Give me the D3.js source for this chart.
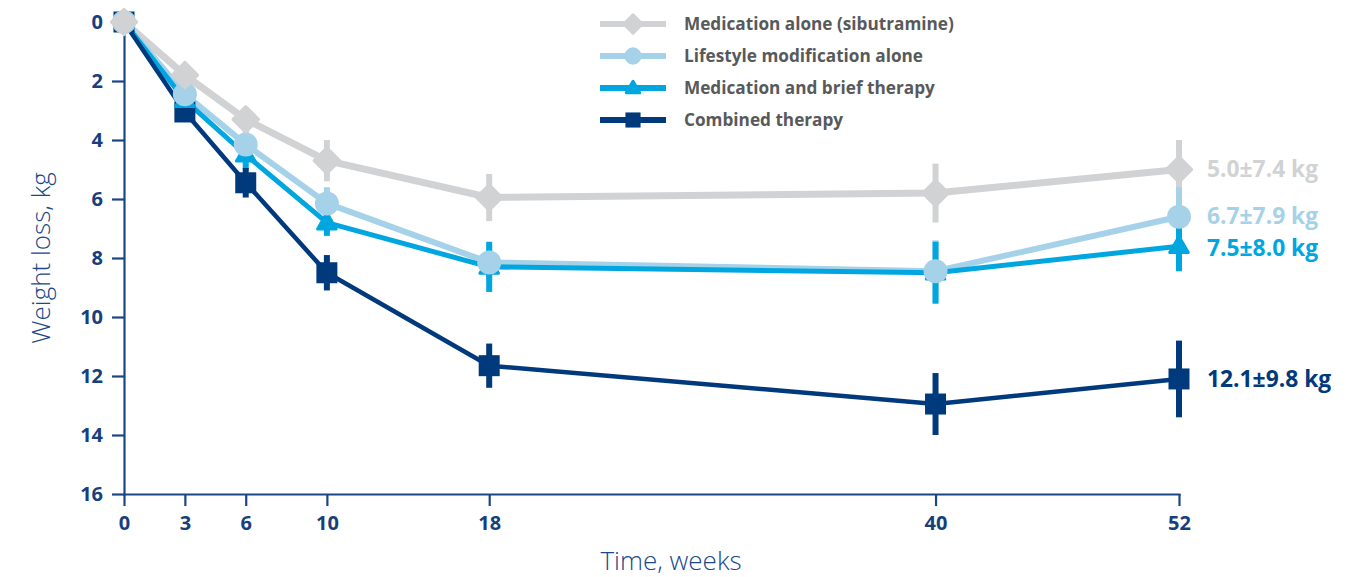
<!DOCTYPE html>
<html lang="en">
<head>
    <meta charset="UTF-8">
    <title>Weight loss over time</title>
    <script src="https://d3js.org/d3.v7.min.js"></script>
    <style>
        body { margin: 0; background: #fff; }
        svg text { font-family: "Open Sans", "Noto Sans", sans-serif; }
        .axis path, .axis line { stroke: #1b4686; stroke-width: 2.2; }
        .axis text { fill: #173f7c; font-weight: 700; font-size: 20px; }
    </style>
</head>
<body>
    <svg id="chart" width="1371" height="577"></svg>

    <script>
        // weeks on the x axis
        const weeks = [0, 3, 6, 10, 18, 40, 52];
        const yTicks = [0, 2, 4, 6, 8, 10, 12, 14, 16];

        // mean weight loss (kg) per group
        const medAlone  = [0, 1.8, 3.3, 4.7, 5.95, 5.8, 5.0];
        const lifestyle = [0, 2.45, 4.15, 6.15, 8.15, 8.45, 6.6];
        const medBrief  = [0, 2.65, 4.5, 6.8, 8.3, 8.5, 7.6];
        const combined  = [0, 3.05, 5.45, 8.5, 11.65, 12.95, 12.1];

        // error bar half-lengths (kg)
        const medAloneErr  = [0, 0.3, 0.4, 0.7, 0.8, 1.0, 1.0];
        const lifestyleErr = [0, 0.8, 0.55, 0.55, 0.6, 1.05, 1.0];
        const medBriefErr  = [0, 0.4, 0.5, 0.45, 0.85, 1.05, 0.85];
        const combinedErr  = [0, 0.3, 0.5, 0.6, 0.75, 1.05, 1.3];

        const names = ["Medication alone (sibutramine)", "Lifestyle modification alone",
                       "Medication and brief therapy", "Combined therapy"];
        const endLabels = ["5.0±7.4 kg", "6.7±7.9 kg", "7.5±8.0 kg", "12.1±9.8 kg"];

        const series = [
            {name: names[0], vals: medAlone,  err: medAloneErr,  end: endLabels[0], color: "#d1d2d4", lw: 7,   shape: "diamond",  nudge: 0},
            {name: names[1], vals: lifestyle, err: lifestyleErr, end: endLabels[1], color: "#a5d2e8", lw: 6,   shape: "circle",   nudge: -1},
            {name: names[2], vals: medBrief,  err: medBriefErr,  end: endLabels[2], color: "#00a6e0", lw: 5,   shape: "triangle", nudge: 1.5},
            {name: names[3], vals: combined,  err: combinedErr,  end: endLabels[3], color: "#003a7c", lw: 4.5, shape: "square",   nudge: 0}
        ];

        const svg = d3.select("#chart");

        const x = d3.scaleLinear().domain([0, 52]).range([124, 1179]);
        const y = d3.scaleLinear().domain([0, 16]).range([22, 494]);

        svg.append("g")
           .attr("class", "axis")
           .attr("transform", "translate(124,0)")
           .call(d3.axisLeft(y).tickValues(yTicks).tickSize(12).tickSizeOuter(0).tickPadding(9));

        svg.append("g")
           .attr("class", "axis")
           .attr("transform", "translate(0,494)")
           .call(d3.axisBottom(x).tickValues(weeks).tickSize(12).tickSizeOuter(0).tickPadding(10));

        svg.selectAll(".axis .domain").attr("stroke-linecap", "square");

        // axis titles
        svg.append("text")
           .attr("transform", "translate(50,258) rotate(-90)")
           .attr("text-anchor", "middle")
           .attr("fill", "#1a4888")
           .attr("font-size", 26)
           .attr("font-weight", 300)
           .text("Weight loss, kg");

        svg.append("text")
           .attr("x", 671).attr("y", 570)
           .attr("text-anchor", "middle")
           .attr("fill", "#1a4888")
           .attr("font-size", 26)
           .attr("font-weight", 300)
           .text("Time, weeks");

        function marker(g, shape, color, s) {
            if (shape === "circle") {
                g.append("circle").attr("r", 12 * s).attr("fill", color);
            } else if (shape === "square") {
                g.append("rect").attr("x", -10.5 * s).attr("y", -10.5 * s)
                 .attr("width", 21 * s).attr("height", 21 * s).attr("fill", color);
            } else if (shape === "diamond") {
                g.append("rect").attr("x", -9 * s).attr("y", -9 * s)
                 .attr("width", 18 * s).attr("height", 18 * s)
                 .attr("transform", "rotate(45)")
                 .attr("fill", color).attr("stroke", color)
                 .attr("stroke-width", 3).attr("stroke-linejoin", "round");
            } else {
                g.append("path")
                 .attr("d", d3.symbol(d3.symbolTriangle, 150 * s * s)())
                 .attr("transform", "translate(0,1)")
                 .attr("fill", color).attr("stroke", color)
                 .attr("stroke-width", 3).attr("stroke-linejoin", "round");
            }
        }

        const line = d3.line().x((d, i) => x(weeks[i])).y(d => y(d));

        // lines and error bars
        series.forEach(s => {
            svg.append("path")
               .datum(s.vals)
               .attr("d", line)
               .attr("fill", "none")
               .attr("stroke", s.color)
               .attr("stroke-width", s.lw)
               .attr("stroke-linejoin", "round");

            svg.selectAll(null)
               .data(s.vals)
               .enter()
               .append("line")
               .attr("x1", (d, i) => x(weeks[i]))
               .attr("x2", (d, i) => x(weeks[i]))
               .attr("y1", (d, i) => y(d - s.err[i]))
               .attr("y2", (d, i) => y(d + s.err[i]))
               .attr("stroke", s.color)
               .attr("stroke-width", 6);
        });

        // markers, drawn so the grey diamonds sit on top
        series.slice().reverse().forEach(s => {
            s.vals.forEach((v, i) => {
                const g = svg.append("g").attr("transform", `translate(${x(weeks[i])},${y(v)})`);
                marker(g, s.shape, s.color, 1);
            });
        });

        // end-of-study labels
        series.forEach(s => {
            svg.append("text")
               .attr("x", x(52) + 28)
               .attr("y", y(s.vals[s.vals.length - 1]) + s.nudge)
               .attr("dy", "0.35em")
               .attr("fill", s.color)
               .attr("font-size", 22.8)
               .attr("font-weight", 700)
               .text(s.end);
        });

        // legend
        const legend = svg.append("g").attr("transform", "translate(600,24)");
        series.forEach((s, i) => {
            const row = legend.append("g").attr("transform", `translate(0,${i * 32})`);
            row.append("line")
               .attr("x1", 0).attr("x2", 66)
               .attr("stroke", s.color)
               .attr("stroke-width", 6);
            const m = row.append("g").attr("transform", "translate(33,0)");
            marker(m, s.shape, s.color, 0.72);
            row.append("text")
               .attr("x", 84)
               .attr("dy", "0.35em")
               .attr("fill", "#58595b")
               .attr("font-size", 17.2)
               .attr("font-weight", 700)
               .text(s.name);
        });
    </script>
</body>
</html>
